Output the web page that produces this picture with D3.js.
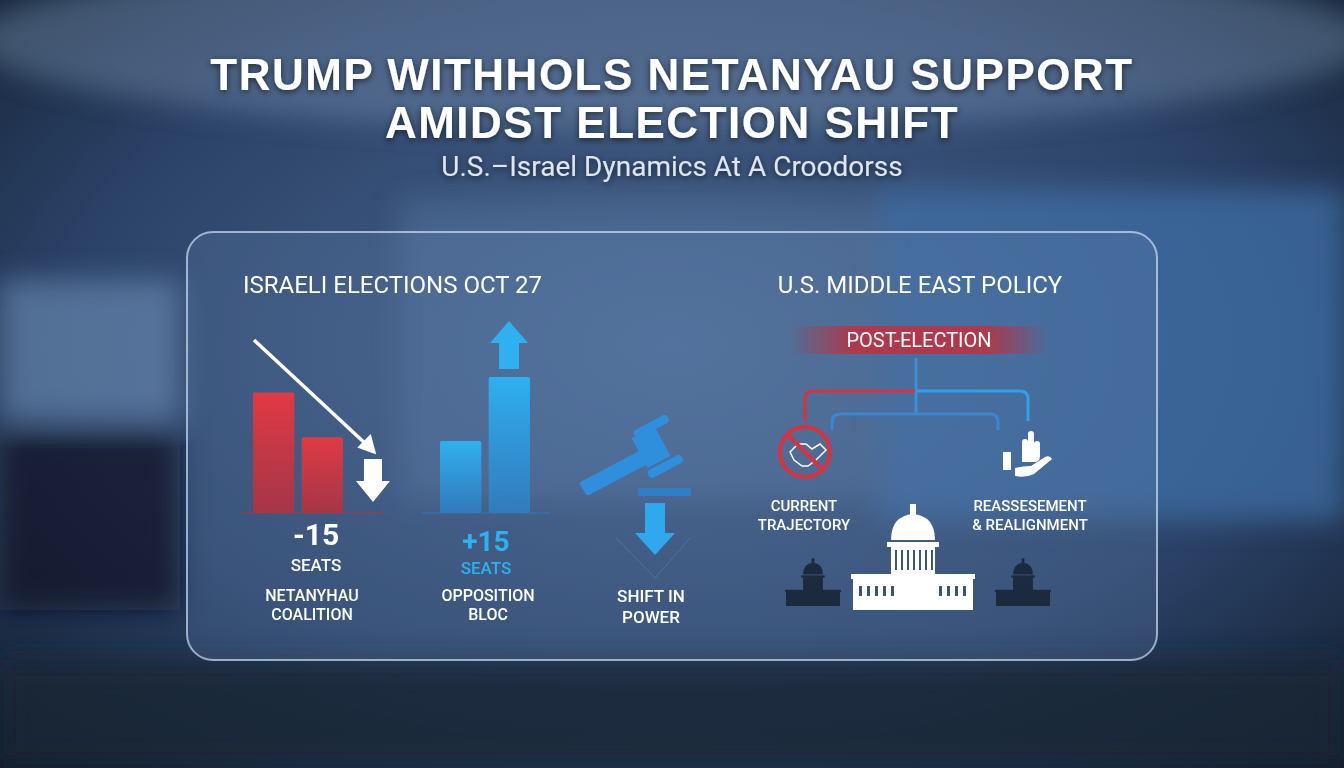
<!DOCTYPE html>
<html><head><meta charset="utf-8">
<script src="https://cdn.jsdelivr.net/npm/d3@7"></script>
<style>body{margin:0;background:#1b2b44;overflow:hidden}svg{display:block}</style>
</head><body>
<svg id="c" width="1344" height="768"></svg>
<script>
const titleLines = ["TRUMP WITHHOLS NETANYAU SUPPORT", "AMIDST ELECTION SHIFT"];
const subtitle = "U.S.–Israel Dynamics At A Croodorss";
const leftHeader = "ISRAELI ELECTIONS OCT 27";
const rightHeader = "U.S. MIDDLE EAST POLICY";
const coalitionSeats = [62, 39];
const oppositionSeats = [37, 70];
const coalitionChange = "-15", oppositionChange = "+15";

const svg = d3.select("#c");
const defs = svg.append("defs");
const bg = defs.append("radialGradient").attr("id","bg").attr("cx","0.5").attr("cy","0.45").attr("r","0.75");
bg.append("stop").attr("offset","0").attr("stop-color","#4a6690");
bg.append("stop").attr("offset","0.6").attr("stop-color","#2c4368");
bg.append("stop").attr("offset","1").attr("stop-color","#111c2c");
const blur = defs.append("filter").attr("id","blur").attr("x","-20%").attr("y","-20%").attr("width","140%").attr("height","140%");
blur.append("feGaussianBlur").attr("stdDeviation",14);
const sh = defs.append("filter").attr("id","sh");
sh.append("feDropShadow").attr("dx",0).attr("dy",2).attr("stdDeviation",3).attr("flood-color","#000").attr("flood-opacity",0.6);
function lg(id, c1, c2, o1, o2){const g=defs.append("linearGradient").attr("id",id).attr("x1",0).attr("y1",0).attr("x2",0).attr("y2",1);
 g.append("stop").attr("offset",0).attr("stop-color",c1).attr("stop-opacity",o1);g.append("stop").attr("offset",1).attr("stop-color",c2).attr("stop-opacity",o2);}
lg("red","#e23a44","#b8303e",1,0.85); lg("blue","#2fb0f0","#2f7fc4",1,0.85);
const pe = defs.append("linearGradient").attr("id","pe");
pe.append("stop").attr("offset",0).attr("stop-color","#c0303e").attr("stop-opacity",0);
pe.append("stop").attr("offset",0.25).attr("stop-color","#c0303e").attr("stop-opacity",0.85);
pe.append("stop").attr("offset",0.75).attr("stop-color","#c0303e").attr("stop-opacity",0.85);
pe.append("stop").attr("offset",1).attr("stop-color","#c0303e").attr("stop-opacity",0);

svg.append("rect").attr("width",1344).attr("height",768).attr("fill","url(#bg)");
const g0 = svg.append("g").attr("filter","url(#blur)");
g0.append("ellipse").attr("cx",672).attr("cy",40).attr("rx",700).attr("ry",90).attr("fill","#8aa3c4").attr("opacity",0.35);
g0.append("rect").attr("x",880).attr("y",190).attr("width",464).attr("height",330).attr("fill","#3f6fa6").attr("opacity",0.7);
g0.append("rect").attr("x",0).attr("y",280).attr("width",180).attr("height",140).attr("fill","#6e8fb8").attr("opacity",0.6);
g0.append("rect").attr("x",0).attr("y",430).attr("width",180).attr("height",180).attr("fill","#0e1624").attr("opacity",0.7);
g0.append("rect").attr("x",0).attr("y",660).attr("width",1344).attr("height",108).attr("fill","#182436").attr("opacity",0.8);
g0.append("rect").attr("x",400).attr("y",200).attr("width",480).attr("height",300).attr("fill","#5a7aa5").attr("opacity",0.4);

const tg = svg.append("g").attr("filter","url(#sh)");
tg.selectAll("text.t").data(titleLines).join("text").attr("x",672).attr("y",(d,i)=>90+i*48)
 .attr("text-anchor","middle").attr("fill","#fff").attr("font-family","Liberation Sans, Arial").attr("font-weight","bold")
 .attr("font-size",44).attr("letter-spacing",1.5).text(d=>d);
tg.append("text").attr("x",672).attr("y",176).attr("text-anchor","middle").attr("fill","#dfe6ef")
 .attr("font-family","Roboto, sans-serif").attr("font-size",28).text(subtitle);

svg.append("rect").attr("x",187).attr("y",232).attr("width",970).attr("height",428).attr("rx",26)
 .attr("fill","#5f7ea8").attr("fill-opacity",0.28).attr("stroke","#cfe0f5").attr("stroke-opacity",0.7).attr("stroke-width",2);

const font = "Roboto, sans-serif";
function txt(x,y,s,size,fill,weight,anchor){return svg.append("text").attr("x",x).attr("y",y).attr("font-family",font)
 .attr("font-size",size).attr("fill",fill).attr("font-weight",weight||"500").attr("text-anchor",anchor||"middle").text(s);}
txt(243,293,leftHeader,24,"#fff","normal","start");
txt(920,293,rightHeader,24,"#fff","normal");

const base = 513;
const y = d3.scaleLinear().domain([0,70]).range([base, base-136]);
const xr = d3.scaleBand().domain([0,1]).range([253,343]).paddingInner(0.15);
const xb = d3.scaleBand().domain([0,1]).range([440,530]).paddingInner(0.15);
svg.append("line").attr("x1",240).attr("x2",384).attr("y1",base).attr("y2",base).attr("stroke","#c0303e").attr("opacity",0.7);
svg.append("line").attr("x1",422).attr("x2",550).attr("y1",base).attr("y2",base).attr("stroke","#2f7fc4").attr("opacity",0.7);
svg.selectAll("rect.r").data(coalitionSeats).join("rect").attr("x",(d,i)=>xr(i)).attr("width",xr.bandwidth())
 .attr("y",d=>y(d)).attr("height",d=>base-y(d)).attr("rx",2).attr("fill","url(#red)");
svg.selectAll("rect.b").data(oppositionSeats).join("rect").attr("x",(d,i)=>xb(i)).attr("width",xb.bandwidth())
 .attr("y",d=>y(d)).attr("height",d=>base-y(d)).attr("rx",2).attr("fill","url(#blue)");
svg.append("line").attr("x1",254).attr("y1",340).attr("x2",368).attr("y2",446).attr("stroke","#fff").attr("stroke-width",3.5);
svg.append("path").attr("d","M374,452 L360,447 L370,437 Z").attr("fill","#fff").attr("stroke","#fff").attr("stroke-width",3);
svg.append("path").attr("d","M364,459 h18 v22 h8 l-17,21 l-17,-21 h8 z").attr("fill","#fff");
svg.append("path").attr("d","M509,321 l19,22 h-9 v26 h-20 v-26 h-9 z").attr("fill","#2fb0f0");

txt(316,545,coalitionChange,30,"#fff","bold");
txt(316,571,"SEATS",17,"#fff");
txt(312,601,"NETANYHAU",16,"#fff");
txt(312,620,"COALITION",16,"#fff");
txt(486,551,oppositionChange,28,"#2fb0f0","bold");
txt(486,574,"SEATS",17,"#2fb0f0");
txt(488,601,"OPPOSITION",16,"#fff");
txt(488,620,"BLOC",16,"#fff");

const gv = svg.append("g").attr("fill","#2f8fdc");
gv.append("path").attr("d","M583,484 L640,454 L645,462 L588,492 Z").attr("stroke","#2f8fdc").attr("stroke-width",6).attr("stroke-linejoin","round");
gv.append("rect").attr("x",638).attr("y",430).attr("width",26).attr("height",34).attr("transform","rotate(-28 651 447)");
gv.append("rect").attr("x",632).attr("y",422).attr("width",38).attr("height",9).attr("rx",4).attr("transform","rotate(-28 651 426)");
gv.append("rect").attr("x",646).attr("y",462).attr("width",38).attr("height",9).attr("rx",4).attr("transform","rotate(-28 665 466)");
svg.append("rect").attr("x",638).attr("y",488).attr("width",53).attr("height",8).attr("fill","#2f7fc4");
svg.append("path").attr("d","M645,503 h20 v30 h10 l-20,22 l-20,-22 h10 z").attr("fill","#2fa8ee");
svg.append("path").attr("d","M616,538 L655,578 L690,538").attr("fill","none").attr("stroke","#4f86bf").attr("opacity",0.5);
txt(651,602,"SHIFT IN",17,"#fff");
txt(651,623,"POWER",17,"#fff");

svg.append("rect").attr("x",790).attr("y",326).attr("width",260).attr("height",28).attr("fill","url(#pe)");
txt(919,347,"POST-ELECTION",20,"#fff","normal");
const tree = svg.append("g").attr("fill","none").attr("stroke-width",3);
tree.append("line").attr("x1",916).attr("x2",916).attr("y1",358).attr("y2",414).attr("stroke","#3d8fd6");
tree.append("path").attr("d","M805,421 v-22 q0,-8 8,-8 H915").attr("stroke","#d9323f");
tree.append("path").attr("d","M917,391 H1020 q8,0 8,8 v22").attr("stroke","#2fa0ea");
tree.append("path").attr("d","M832,430 v-8 q0,-8 8,-8 H990 q8,0 8,8 v8").attr("stroke","#3a86d0");
svg.append("circle").attr("cx",805).attr("cy",452).attr("r",25).attr("fill","none").attr("stroke","#d9323f").attr("stroke-width",4);
svg.append("path").attr("d","M790,452 l8,-8 h8 l6,5 l8,-5 l6,6 l-10,10 l-8,6 h-6 l-8,-6 z").attr("fill","none").attr("stroke","#fff").attr("stroke-width",1.5);
svg.append("line").attr("x1",788).attr("y1",435).attr("x2",822).attr("y2",469).attr("stroke","#d9323f").attr("stroke-width",4);
const hd = svg.append("g").attr("fill","#fff");
hd.append("rect").attr("x",1003).attr("y",452).attr("width",8).attr("height",18);
hd.append("path").attr("d","M1015,468 q8,-2 16,-2 l14,-9 q5,-2 7,2 l-18,15 q-8,4 -19,2 z");
hd.append("path").attr("d","M1022,462 v-20 q0,-3 3,-3 q3,0 3,3 v-8 q0,-3 3,-3 q3,0 3,3 v10 q0,-3 3,-3 q3,0 3,3 v12 q0,6 -6,6 h-10 z");
txt(804,511,"CURRENT",15,"#fff");
txt(804,530,"TRAJECTORY",15,"#fff");
txt(1030,511,"REASSESEMENT",15,"#fff");
txt(1030,530,"& REALIGNMENT",15,"#fff");

function capitol(cx, by, s, fill){
 const c = svg.append("g").attr("transform",`translate(${cx},${by}) scale(${s})`).attr("fill",fill);
 c.append("rect").attr("x",-60).attr("y",-32).attr("width",120).attr("height",32);
 c.append("rect").attr("x",-62).attr("y",-36).attr("width",124).attr("height",5);
 c.append("rect").attr("x",-22).attr("y",-64).attr("width",44).attr("height",30);
 c.append("rect").attr("x",-26).attr("y",-68).attr("width",52).attr("height",5);
 c.append("path").attr("d","M-22,-70 Q-22,-94 0,-96 Q22,-94 22,-70 Z");
 c.append("rect").attr("x",-3).attr("y",-106).attr("width",6).attr("height",12);
 c.append("path").attr("d","M-22,-36 L0,-46 L22,-36 Z");
 return c;
}
const main = capitol(913,610,1,"#fff");
d3.range(-54,56,8).forEach(x=>{ if(Math.abs(x)>20) main.append("rect").attr("x",x).attr("y",-24).attr("width",3).attr("height",10).attr("fill","#3a5578");});
d3.range(-18,20,6).forEach(x=>main.append("rect").attr("x",x).attr("y",-60).attr("width",2).attr("height",20).attr("fill","#3a5578"));
capitol(813,606,0.45,"#1c2a3e");
capitol(1023,606,0.45,"#1c2a3e");
</script>
</body></html>
